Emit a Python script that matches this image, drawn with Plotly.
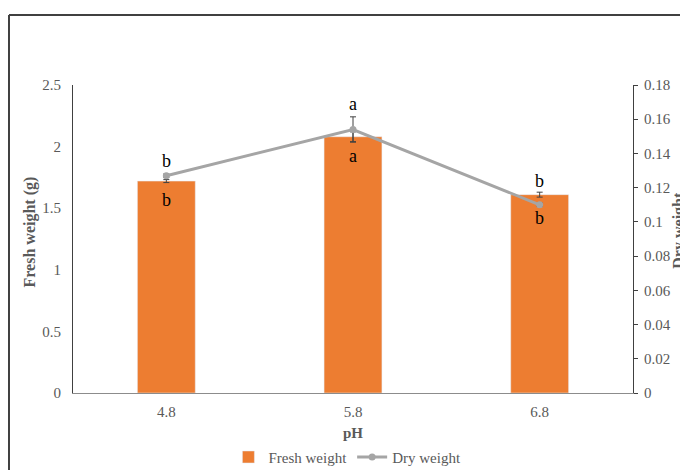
import plotly.graph_objects as go

ph = ["4.8", "5.8", "6.8"]
fresh = [1.72, 2.08, 1.61]
fresh_err = [0.012, 0.04, 0.02]
dry = [0.127, 0.154, 0.110]
dry_err = [0.001, 0.0074, 0.001]
dry_letters = ["b", "a", "b"]
fresh_letters = ["b", "a", "b"]
y1_ticks = [0, 0.5, 1, 1.5, 2, 2.5]
y1_text = ["0", "0.5", "1", "1.5", "2", "2.5"]
y2_ticks = [0, 0.02, 0.04, 0.06, 0.08, 0.1, 0.12, 0.14, 0.16, 0.18]
y2_text = ["0", "0.02", "0.04", "0.06", "0.08", "0.1", "0.12", "0.14", "0.16", "0.18"]

SERIF = "Liberation Serif, Times New Roman, serif"
GREY_TXT = "#595959"

fig = go.Figure()
fig.add_trace(go.Bar(
    x=ph, y=fresh, name="Fresh weight", marker_color="#ED7D31",
    error_y=dict(type="data", array=fresh_err, color="#404040", thickness=1, width=3),
    yaxis="y",
))
fig.add_trace(go.Scatter(
    x=ph, y=dry, name="Dry weight", mode="lines+markers",
    line=dict(color="#A5A5A5", width=3), marker=dict(color="#A5A5A5", size=7),
    error_y=dict(type="data", array=dry_err, color="#404040", thickness=1, width=3),
    yaxis="y2",
))

for i in range(len(ph)):
    top_dry = dry[i] + dry_err[i]
    fig.add_annotation(x=i, y=top_dry, yref="y2", text=dry_letters[i], showarrow=False,
                       yshift=13 if i != 2 else 22, font=dict(family=SERIF, size=18, color="black"))
    fig.add_annotation(x=i, y=fresh[i], yref="y", text=fresh_letters[i], showarrow=False,
                       yshift=-19 if i != 2 else -23, font=dict(family=SERIF, size=18, color="black"))

fig.add_annotation(xref="paper", yref="paper", x=1.082, y=0.53, text="<b>Dry weight</b>",
                   textangle=-90, showarrow=False, xanchor="center", yanchor="middle",
                   font=dict(family=SERIF, size=16, color=GREY_TXT))
fig.add_annotation(xref="paper", yref="paper", x=-0.077, y=0.524, text="<b>Fresh weight (g)</b>",
                   textangle=-90, showarrow=False, xanchor="center", yanchor="middle",
                   font=dict(family=SERIF, size=16, color=GREY_TXT))

fig.add_shape(type="line", xref="paper", yref="paper", x0=-0.1143, x1=-0.1143, y0=1.227, y1=-0.3,
              line=dict(color="#404040", width=2))
fig.add_shape(type="line", xref="paper", yref="paper", x0=-0.1143, x1=1.2, y0=1.227, y1=1.227,
              line=dict(color="#404040", width=2))

fig.update_layout(
    width=680, height=462,
    margin=dict(l=65, r=55, t=77, b=77, autoexpand=False),
    paper_bgcolor="white", plot_bgcolor="white",
    bargap=0.69,
    showlegend=True,
    legend=dict(orientation="h", x=0.49, xanchor="center", y=-0.155, yanchor="top",
                font=dict(family=SERIF, size=15, color=GREY_TXT), itemwidth=30),
    xaxis=dict(type="category", range=[-0.5, 2.5], showline=True, linecolor="#8c8c8c", linewidth=1,
               ticks="", ticklabelstandoff=5, tickfont=dict(family=SERIF, size=15, color=GREY_TXT),
               title=dict(text="<b>pH</b>", font=dict(family=SERIF, size=15, color=GREY_TXT), standoff=8)),
    yaxis=dict(range=[0, 2.5], tickvals=y1_ticks, ticktext=y1_text, showgrid=False,
               showline=True, linecolor="#404040", linewidth=1, ticks="", ticklabelstandoff=8,
               tickfont=dict(family=SERIF, size=15, color=GREY_TXT), zeroline=False),
    yaxis2=dict(range=[0, 0.18], tickvals=y2_ticks, ticktext=y2_text, overlaying="y", side="right",
                showgrid=False, showline=True, linecolor="#404040", linewidth=1,
                ticks="outside", ticklen=4, tickcolor="#404040", zeroline=False, ticklabelstandoff=3,
                tickfont=dict(family=SERIF, size=15, color=GREY_TXT)),
)

fig.write_html("out.html")
